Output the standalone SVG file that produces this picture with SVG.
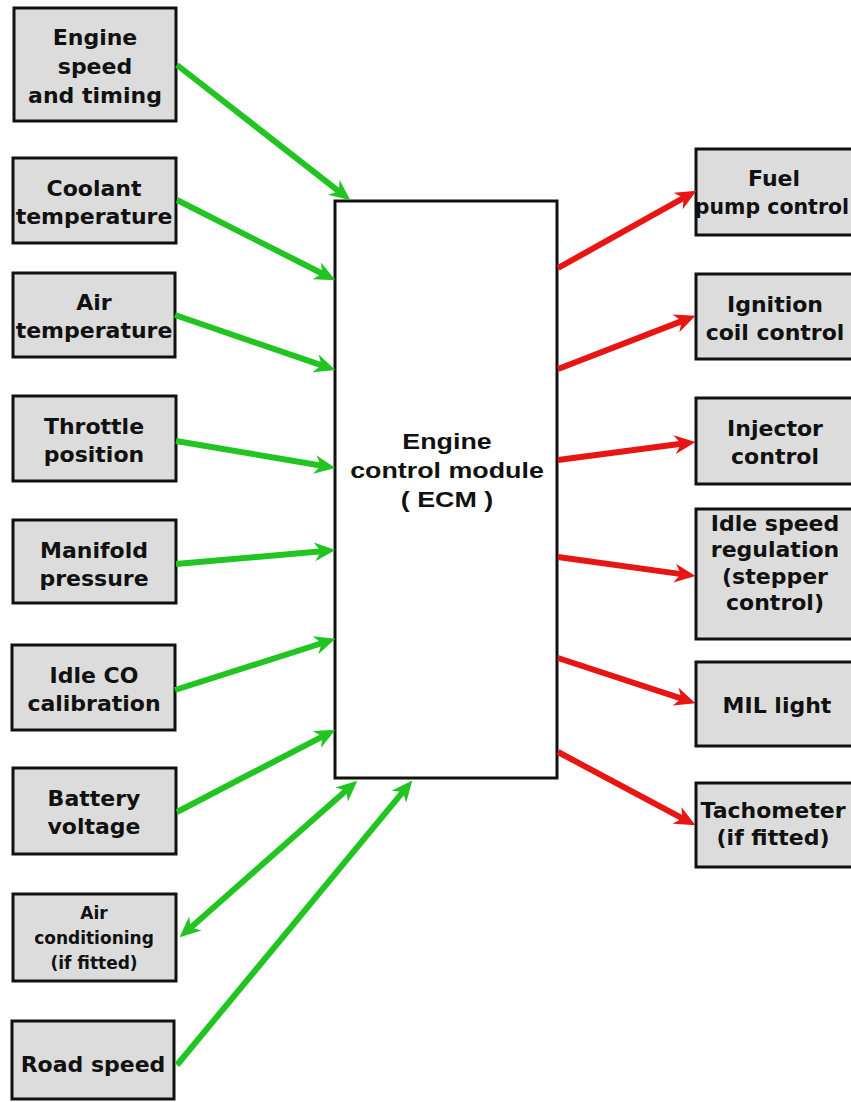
<svg xmlns="http://www.w3.org/2000/svg" width="851" height="1102" viewBox="0 0 851 1102">
<style>
.box{fill:#dcdcdc;stroke:#111;stroke-width:3}
.ecm{fill:#fff;stroke:#111;stroke-width:3}
.t{font-family:"DejaVu Sans",Verdana,sans-serif;font-weight:bold;font-size:22px;fill:#111;text-anchor:middle}
.ts{font-family:"DejaVu Sans",Verdana,sans-serif;font-weight:bold;font-size:17px;fill:#111;text-anchor:middle}
.te{font-family:"Liberation Sans",Arial,sans-serif;font-weight:bold;font-size:22px;fill:#111;text-anchor:middle}
.g{stroke:#22c422;stroke-width:6;fill:none;marker-end:url(#ag)}
.r{stroke:#e81515;stroke-width:6;fill:none;marker-end:url(#ar)}
</style>
<defs>
<marker id="ag" markerUnits="userSpaceOnUse" viewBox="0 0 20 18" markerWidth="21" markerHeight="19" refX="10" refY="9" orient="auto-start-reverse"><path d="M20,9 L0,0 L6,9 L0,18 z" fill="#22c422"/></marker>
<marker id="ar" markerUnits="userSpaceOnUse" viewBox="0 0 20 18" markerWidth="21" markerHeight="19" refX="10" refY="9" orient="auto"><path d="M20,9 L0,0 L6,9 L0,18 z" fill="#e81515"/></marker>
</defs>
<rect width="851" height="1102" fill="#fff"/>

<g id="ecm">
<rect class="ecm" x="335" y="201" width="222" height="577"/>
<text class="te" transform="matrix(1.22,0,0,1,447,0)" x="0" y="449">Engine</text>
<text class="te" transform="matrix(1.22,0,0,1,447,0)" x="0" y="478">control module</text>
<text class="te" transform="matrix(1.22,0,0,1,447,0)" x="0" y="507">( ECM )</text>
</g>

<g id="engine-speed"><rect class="box" x="14" y="8" width="162" height="113"/>
<text class="t" x="95" y="45">Engine</text><text class="t" x="95" y="74">speed</text><text class="t" x="95" y="103">and timing</text></g>
<g id="coolant"><rect class="box" x="13" y="158" width="163" height="85"/>
<text class="t" x="94" y="196">Coolant</text><text class="t" x="94" y="224">temperature</text></g>
<g id="air-temp"><rect class="box" x="13" y="273" width="162" height="84"/>
<text class="t" x="94" y="310">Air</text><text class="t" x="94" y="338">temperature</text></g>
<g id="throttle"><rect class="box" x="13" y="396" width="163" height="85"/>
<text class="t" x="94" y="434">Throttle</text><text class="t" x="94" y="462">position</text></g>
<g id="manifold"><rect class="box" x="13" y="520" width="163" height="83"/>
<text class="t" x="94" y="558">Manifold</text><text class="t" x="94" y="586">pressure</text></g>
<g id="idle-co"><rect class="box" x="12" y="645" width="163" height="85"/>
<text class="t" x="94" y="683">Idle CO</text><text class="t" x="94" y="711">calibration</text></g>
<g id="battery"><rect class="box" x="13" y="768" width="163" height="86"/>
<text class="t" x="94" y="806">Battery</text><text class="t" x="94" y="834">voltage</text></g>
<g id="air-cond"><rect class="box" x="13" y="894" width="163" height="87"/>
<text class="ts" x="94" y="919">Air</text><text class="ts" x="94" y="944">conditioning</text><text class="ts" x="94" y="969">(if fitted)</text></g>
<g id="road-speed"><rect class="box" x="12" y="1021" width="162" height="78"/>
<text class="t" x="93" y="1072">Road speed</text></g>

<g id="fuel-pump"><rect class="box" x="696" y="149" width="158" height="86"/>
<text class="t" x="774" y="186">Fuel</text><text class="t" x="772" y="214" style="font-size:20.5px">pump control</text></g>
<g id="ignition"><rect class="box" x="696" y="274" width="158" height="85"/>
<text class="t" x="775" y="312">Ignition</text><text class="t" x="775" y="340">coil control</text></g>
<g id="injector"><rect class="box" x="696" y="398" width="158" height="86"/>
<text class="t" x="775" y="436">Injector</text><text class="t" x="775" y="464">control</text></g>
<g id="idle-speed"><rect class="box" x="696" y="509" width="158" height="130"/>
<text class="t" x="775" y="531">Idle speed</text><text class="t" x="775" y="557">regulation</text><text class="t" x="775" y="584">(stepper</text><text class="t" x="775" y="610">control)</text></g>
<g id="mil"><rect class="box" x="696" y="662" width="158" height="84"/>
<text class="t" x="777" y="713">MIL light</text></g>
<g id="tacho"><rect class="box" x="696" y="783" width="158" height="84"/>
<text class="t" x="773" y="818">Tachometer</text><text class="t" x="773" y="845">(if fitted)</text></g>

<g id="connectors">
<line class="g" x1="177" y1="65" x2="342.1" y2="193.8"/>
<line class="g" x1="177" y1="200" x2="326.1" y2="275.5"/>
<line class="g" x1="175" y1="315" x2="325.5" y2="366.7"/>
<line class="g" x1="176" y1="441" x2="325.1" y2="466.3"/>
<line class="g" x1="176" y1="564" x2="325" y2="550.9"/>
<line class="g" x1="175" y1="690" x2="325.5" y2="642"/>
<line class="g" x1="177" y1="812" x2="326.1" y2="734.6"/>
<line class="g" x1="187.5" y1="930.4" x2="349.5" y2="787.6" style="marker-start:url(#ag)"/>
<line class="g" x1="177" y1="1065" x2="405.6" y2="788.7"/>
<line class="r" x1="558" y1="268" x2="687.3" y2="195.9"/>
<line class="r" x1="558" y1="369" x2="685.7" y2="319.6"/>
<line class="r" x1="558" y1="460" x2="685.1" y2="443.3"/>
<line class="r" x1="558" y1="557" x2="685.1" y2="574.6"/>
<line class="r" x1="558" y1="658" x2="685.5" y2="699.9"/>
<line class="r" x1="558" y1="752" x2="686.2" y2="820.3"/>
</g>
</svg>
